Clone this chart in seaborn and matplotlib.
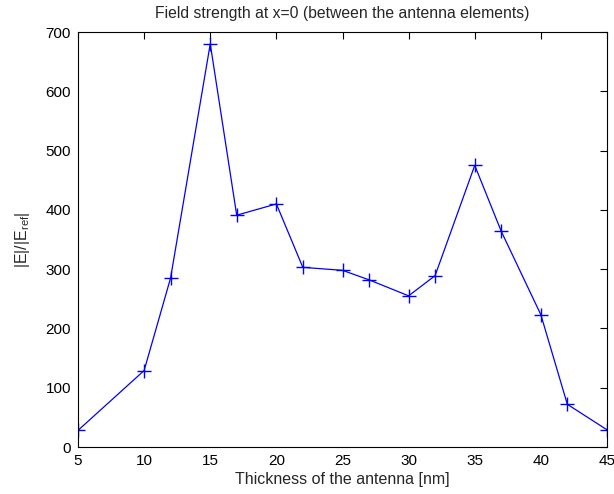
import matplotlib
matplotlib.use("Agg")
import matplotlib.pyplot as plt
import seaborn as sns
import pandas as pd

thickness = [5, 10, 12, 15, 17, 20, 22, 25, 27, 30, 32, 35, 37, 40, 42, 45]
field = [28, 129, 285, 680, 391, 410, 303, 298, 282, 255, 289, 475, 364, 223, 72, 29]
x_ticks = [5, 10, 15, 20, 25, 30, 35, 40, 45]
y_ticks = [0, 100, 200, 300, 400, 500, 600, 700]

sns.set_style("white")
plt.rcParams['font.family'] = ['Liberation Sans', 'DejaVu Sans']
plt.rcParams['mathtext.fontset'] = 'custom'
plt.rcParams['mathtext.rm'] = 'Liberation Sans'
plt.rcParams['mathtext.it'] = 'Liberation Sans'

df = pd.DataFrame({"thickness": thickness, "field": field})

fig = plt.figure(figsize=(6.14, 4.94), dpi=100)
ax = fig.add_axes([78/614, 47/494, (607-78)/614, (447-32)/494])
sns.lineplot(data=df, x="thickness", y="field", ax=ax, color="#0000ff",
             marker="+", markersize=10, markeredgewidth=1.0, linewidth=0.9,
             markeredgecolor="#0000ff")

ax.set_xlim(5, 45)
ax.set_ylim(0, 700)
ax.set_xticks(x_ticks)
ax.set_yticks(y_ticks)
ax.tick_params(direction="in", top=True, right=True, length=5, width=0.8,
               labelsize=11, pad=5, colors="black")
for s in ax.spines.values():
    s.set_visible(True)
    s.set_color("black")
    s.set_linewidth(0.8)
ax.set_xlabel("Thickness of the antenna [nm]", fontsize=11.5, labelpad=3)
ax.set_ylabel(r"|E|/|E$_{\mathrm{ref}}$|", fontsize=11.5, labelpad=10)
ax.set_title("Field strength at x=0 (between the antenna elements)", fontsize=11.3, pad=10)

fig.savefig("out.png", dpi=100)
